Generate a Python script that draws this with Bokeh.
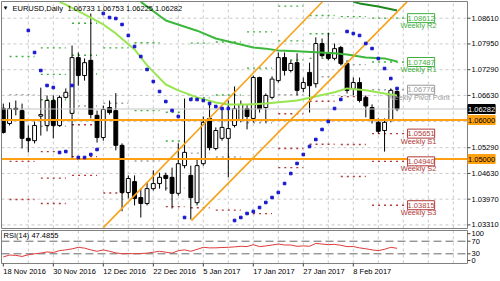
from bokeh.plotting import figure
from bokeh.layouts import column
from bokeh.models import Range1d, Label
from bokeh.embed import file_html
from bokeh.resources import INLINE

NAN = float("nan")

# ---------------- daily candles (bar 0 = 18 Nov 2016) ----------------
opens = [1.0630, 1.0591, 1.0630, 1.0624, 1.0553, 1.0547, 1.0610, 1.0586, 1.0650, 1.0586,
         1.0658, 1.0617, 1.0760, 1.0714, 1.0753, 1.0612, 1.0555, 1.0632, 1.0624, 1.0535,
         1.0414, 1.0442, 1.0401, 1.0386, 1.0424, 1.0437, 1.0458, 1.0453, 1.0412, 1.0483,
         1.0458, 1.0388, 1.0488, 1.0604, 1.0527, 1.0553, 1.0553, 1.0586, 1.0599, 1.0629,
         1.0604, 1.0709, 1.0632, 1.0658, 1.0701, 1.0760, 1.0727, 1.0747, 1.0681, 1.0722,
         1.0693, 1.0796, 1.0771, 1.0758, 1.0786, 1.0745, 1.0681, 1.0696, 1.0658, 1.0632,
         1.0594, 1.0573, 1.0599, 1.06733]
highs = [1.0642, 1.0645, 1.0650, 1.0642, 1.0586, 1.0596, 1.0683, 1.0663, 1.0663, 1.0663,
         1.0681, 1.0791, 1.0773, 1.0758, 1.0873, 1.0624, 1.0637, 1.0650, 1.0669, 1.0540,
         1.0458, 1.0458, 1.0424, 1.0440, 1.0471, 1.0465, 1.0465, 1.0478, 1.0540, 1.0655,
         1.0483, 1.0501, 1.0609, 1.0640, 1.0581, 1.0629, 1.0650, 1.0686, 1.0650, 1.0640,
         1.0714, 1.0711, 1.0668, 1.0712, 1.0773, 1.0773, 1.0753, 1.0771, 1.0709, 1.0747,
         1.0812, 1.0809, 1.0824, 1.0796, 1.0790, 1.0753, 1.0709, 1.0709, 1.0663, 1.0640,
         1.0604, 1.0604, 1.0681, 1.06753]
lows = [1.0565, 1.0586, 1.0612, 1.0527, 1.0517, 1.0540, 1.0560, 1.0571, 1.0553, 1.0583,
        1.0655, 1.0501, 1.0688, 1.0701, 1.0604, 1.0542, 1.0547, 1.0614, 1.0522, 1.0366,
        1.0399, 1.0381, 1.0350, 1.0381, 1.0419, 1.0424, 1.0419, 1.0373, 1.0406, 1.0476,
        1.0345, 1.0381, 1.0483, 1.0522, 1.0522, 1.0547, 1.0453, 1.0581, 1.0594, 1.0576,
        1.0594, 1.0619, 1.0594, 1.0653, 1.0696, 1.0714, 1.0722, 1.0663, 1.0671, 1.0619,
        1.0683, 1.0760, 1.0753, 1.0753, 1.0740, 1.0668, 1.0663, 1.0645, 1.0607, 1.0591,
        1.0565, 1.0519, 1.0594, 1.06225]
closes = [1.0568, 1.0629, 1.0627, 1.0553, 1.0547, 1.0586, 1.0614, 1.0650, 1.0586, 1.0658,
          1.0671, 1.0760, 1.0714, 1.0747, 1.0614, 1.0555, 1.0627, 1.0619, 1.0535, 1.0414,
          1.0450, 1.0399, 1.0386, 1.0424, 1.0437, 1.0453, 1.0450, 1.0412, 1.0488, 1.0517,
          1.0401, 1.0483, 1.0594, 1.0529, 1.0573, 1.0581, 1.0578, 1.0629, 1.0640, 1.0609,
          1.0709, 1.0629, 1.0663, 1.0705, 1.0760, 1.0727, 1.0745, 1.0676, 1.0696, 1.0688,
          1.0796, 1.0765, 1.0758, 1.0783, 1.0745, 1.0676, 1.0696, 1.0650, 1.0636, 1.0599,
          1.0571, 1.0594, 1.0676, 1.06282]

# ---------------- moving averages (read at selected bars) ----------------
ma_fast_idx = [9, 10, 13, 16, 18, 21, 23, 26, 28, 31, 34, 36, 39, 42, 47, 53, 55, 58, 61, 63]
ma_fast = [1.0903, 1.0896, 1.0871, 1.0845, 1.0822, 1.0781, 1.0740, 1.0691, 1.0676, 1.0658,
           1.0645, 1.0640, 1.0640, 1.0642, 1.0650, 1.0671, 1.0681, 1.0676, 1.0668, 1.0663]
ma_mid_idx = [22, 26, 31, 34, 40, 42, 44, 47, 53, 55, 58, 61, 63]
ma_mid = [1.0903, 1.0855, 1.0829, 1.0809, 1.0786, 1.0783, 1.0778, 1.0776, 1.0771,
          1.0768, 1.0760, 1.0758, 1.0750]
ma_slow_idx = [56, 57, 60, 63]
ma_slow = [1.0903, 1.0899, 1.0891, 1.0881]

# ---------------- parabolic SAR ----------------
sar_idx = [4, 5, 6, 7, 8, 9, 10, 11, 12, 13, 14, 15, 16, 17, 18, 19, 20, 21, 22, 23, 24, 25, 26,
           27, 28, 29, 30, 31, 32, 33, 34, 35, 36, 37, 38, 39, 40, 41, 42, 43, 44, 45, 46, 47,
           48, 49, 50, 51, 52, 53, 54, 55, 56, 57, 58, 59, 60, 61, 62, 63]
sar = [1.08295, 1.07731, 1.07269, 1.06885, 1.06833, 1.05167, 1.05192, 1.06885, 1.05038,
       1.05038, 1.05115, 1.05244, 1.08731, 1.08628, 1.08603, 1.08449, 1.08167, 1.07885,
       1.07628, 1.07295, 1.06987, 1.06731, 1.06474, 1.06244, 1.06090, 1.03500, 1.06526,
       1.06526, 1.06500, 1.06423, 1.06346, 1.06295, 1.06295, 1.03423, 1.03500, 1.03603,
       1.03654, 1.03756, 1.03885, 1.04013, 1.04141, 1.04372, 1.04628, 1.04885, 1.05115,
       1.05321, 1.05500, 1.05756, 1.05962, 1.06295, 1.06526, 1.08269, 1.08218, 1.08167,
       1.07962, 1.07833, 1.07577, 1.07320, 1.07064, 1.06808]

# ---------------- weekly pivots ----------------
week_first = [1, 6, 11, 16, 21, 26, 30, 34, 39, 44, 49, 54, 59]
week_last = [5, 10, 15, 20, 25, 29, 33, 38, 43, 48, 53, 58, 63]
piv_r3 = [NAN, 1.0785, 1.0848, NAN, NAN, 1.0620, NAN, NAN, NAN, 1.0892, 1.0868, NAN, NAN]
piv_r2 = [NAN, 1.0717, 1.0766, NAN, 1.0798, 1.0546, 1.0797, 1.0800, 1.0826, 1.0803, 1.0821, NAN, 1.08612]
piv_r1 = [1.0763, 1.0652, 1.0718, 1.0785, 1.0624, 1.0499, 1.0657, 1.0664, 1.0733, 1.0754, 1.0758, 1.0865, 1.07487]
piv_pp = [1.0665, 1.0584, 1.0636, 1.0643, 1.0495, 1.0425, 1.0515, 1.0505, 1.0593, 1.0665, 1.0711, 1.0742, 1.06776]
piv_s1 = [1.0494, 1.0519, 1.0588, 1.0413, 1.0321, 1.0378, 1.0375, 1.0369, 1.0500, 1.0616, 1.0648, 1.0660, 1.05651]
piv_s2 = [1.0396, 1.0451, 1.0506, NAN, NAN, NAN, NAN, NAN, 1.0360, 1.0527, 1.0601, 1.0537, 1.04940]
piv_s3 = [NAN, 1.0386, 1.0458, NAN, NAN, NAN, NAN, NAN, NAN, 1.0478, 1.0538, 1.0455, 1.03815]
pivot_names = ["Weekly R2", "Weekly R1", "Weekly Pivot Point", "Weekly S1", "Weekly S2", "Weekly S3"]

# ---------------- drawn objects ----------------
chan_upper_idx = [16.0, 51.1]
chan_upper = [1.0324, 1.0904]
chan_lower_idx = [30.1, 64.6]
chan_lower = [1.0342, 1.0903]
hlines = [1.06, 1.05]

# ---------------- axes ----------------
price_ticks = [1.0861, 1.0795, 1.0729, 1.0663, 1.0529, 1.0463, 1.0397, 1.0331]
price_grid = price_ticks + [1.0596]
date_idx = [0, 8, 16, 24, 32, 40, 48, 56]
date_labels = ["18 Nov 2016", "30 Nov 2016", "12 Dec 2016", "22 Dec 2016",
               "5 Jan 2017", "17 Jan 2017", "27 Jan 2017", "8 Feb 2017"]
grid_bars = list(range(4, 73, 4))

# ---------------- RSI(14) ----------------
rsi = [20.0, 26.0, 25.0, 21.6, 27.0, 30.0, 32.0, 36.0, 34.0, 40.0, 42.5, 45.6, 50.6, 48.0,
       42.5, 38.0, 42.5, 38.0, 33.0, 30.0, 31.0, 30.0, 31.0, 32.0, 35.0, 38.0, 35.0, 32.0,
       40.0, 42.5, 38.0, 44.0, 50.6, 48.8, 49.0, 50.0, 50.6, 52.0, 53.8, 53.0, 59.0, 52.8,
       55.0, 58.0, 61.0, 58.0, 58.0, 53.8, 55.0, 54.0, 63.0, 61.0, 59.0, 60.0, 57.0, 52.8,
       53.0, 48.8, 46.0, 42.5, 40.0, 44.4, 50.6, 47.4855]
rsi_levels = [30, 70]
rsi_tick_pos = [94, 70, 30, 9]
rsi_tick_text = ["100", "70", "30", "0"]

# =====================================================================
FONT = "Liberation Sans"
FS = "7.5px"
BAR_PX = 6.25          # pixels per bar
PRICE_PX = 3900.0      # pixels per price unit
RSI_PX = 33 / 104.8    # pixels per RSI unit
# canvas ranges (frame = whole canvas, bar 0 sits 2.8 px from the left edge)
XL, XR = -2.8 / BAR_PX, (500 - 2.8) / BAR_PX
YT, YB = 1.06 + 119.5 / PRICE_PX, 1.06 - 109.5 / PRICE_PX
# chart-area border (px 1..467 horizontally, 1..228 vertically)
CX0, CX1 = (1 - 2.8) / BAR_PX, (467 - 2.8) / BAR_PX
CY1, CY0 = 1.06 + 118.5 / PRICE_PX, 1.06 - 108.5 / PRICE_PX
R_TOP, R_BOT = 104.0, -0.8
GREEN_P, GRAY_P, RED_P = "#3fae3f", "#a0a0a0", "#b03a3a"
ORANGE = "#f7a21b"
BORDER = "#808080"
GRID = "#c8c8c8"


def lbl(fig, x, y, text, **kw):
    base = dict(text_font=FONT, text_font_size=FS, text_color="black",
                text_align="left", text_baseline="middle")
    base.update(kw)
    fig.add_layout(Label(x=x, y=y, text=text, **base))


p = figure(width=500, height=229, x_range=Range1d(XL, XR), y_range=Range1d(YB, YT),
           x_axis_location=None, y_axis_location=None, output_backend="svg",
           toolbar_location=None, min_border_left=0, min_border_right=0,
           min_border_top=0, min_border_bottom=0)
p.grid.visible = False
p.outline_line_color = None
p.background_fill_color = "white"
p.border_fill_color = "white"

# grid
p.segment(x0=grid_bars, y0=[CY0] * len(grid_bars), x1=grid_bars, y1=[CY1] * len(grid_bars),
          line_color=GRID, line_width=1, line_dash="3 3")
p.segment(x0=[CX0] * len(price_grid), y0=price_grid, x1=[CX1] * len(price_grid), y1=price_grid,
          line_color=GRID, line_width=1, line_dash="3 3")

# pivot dotted segments
px0, px1, py, pc = [], [], [], []
for vals, col in ((piv_r3, GREEN_P), (piv_r2, GREEN_P), (piv_r1, GREEN_P), (piv_pp, GRAY_P),
                  (piv_s1, RED_P), (piv_s2, RED_P), (piv_s3, RED_P)):
    for k, v in enumerate(vals):
        if v == v:
            px0.append(week_first[k])
            px1.append(week_last[k] + (1.7 if k == len(vals) - 1 else 0))
            py.append(v)
            pc.append(col)
p.segment(x0=px0, y0=py, x1=px1, y1=py, line_color=pc, line_width=1.4, line_dash="2 4")

# candles
idx = list(range(len(opens)))
p.segment(x0=idx, y0=lows, x1=idx, y1=highs, line_color="black", line_width=1)
up = [i for i in idx if closes[i] >= opens[i]]
dn = [i for i in idx if closes[i] < opens[i]]
p.vbar(x=up, width=0.62, bottom=[opens[i] for i in up], top=[closes[i] for i in up],
       fill_color="white", line_color="black", line_width=1)
p.vbar(x=dn, width=0.62, bottom=[closes[i] for i in dn], top=[opens[i] for i in dn],
       fill_color="black", line_color="black", line_width=1)

# moving averages
p.line(ma_slow_idx, ma_slow, line_color="#208a20", line_width=2)
p.line(ma_mid_idx, ma_mid, line_color="#3cb83c", line_width=2)
p.line(ma_fast_idx, ma_fast, line_color="#98e650", line_width=2)

# trend channel, bid line and horizontal levels
p.line(chan_upper_idx, chan_upper, line_color=ORANGE, line_width=1.6)
p.line(chan_lower_idx, chan_lower, line_color=ORANGE, line_width=1.6)
p.segment(x0=[CX0], y0=[closes[-1]], x1=[CX1], y1=[closes[-1]], line_color="#c4c4c4", line_width=1)
p.segment(x0=[CX0] * len(hlines), y0=hlines, x1=[CX1] * len(hlines), y1=hlines,
          line_color="#ffa010", line_width=2)

# parabolic SAR
p.scatter(sar_idx, sar, marker="square", size=2.6, fill_color="#1616d0", line_color="#1616d0")

# chart border
p.quad(left=[CX0], right=[CX1], bottom=[CY0], top=[CY1], fill_color=None, line_color=BORDER)

# right price scale
p.segment(x0=[CX1] * len(price_ticks), y0=price_ticks, x1=[CX1 + 3 / BAR_PX] * len(price_ticks),
          y1=price_ticks, line_color="#404040", line_width=1)
for t in price_ticks:
    lbl(p, CX1, t, f"{t:.5f}", x_offset=4)

# weekly pivot labels (last week)
last_vals = [piv_r2[-1], piv_r1[-1], piv_pp[-1], piv_s1[-1], piv_s2[-1], piv_s3[-1]]
last_cols = [GREEN_P, GREEN_P, "#9a9a9a", RED_P, RED_P, RED_P]
for name, v, col in zip(pivot_names, last_vals, last_cols):
    lbl(p, week_last[-1], v, f"{v:.5f}", x_offset=10.5, text_color=col,
        background_fill_color="white", border_line_color=col, padding=(0, 2))
    lbl(p, week_last[-1], v, name, x_offset=21.5, y_offset=-3, text_align="center",
        text_baseline="top", text_color=col)

# right-axis price boxes
for lv in hlines:
    lbl(p, CX1, lv, f"{lv:.5f}", x_offset=0.5, background_fill_color="#ffa010",
        border_line_color="#ffa010", padding=(0, 2))
lbl(p, CX1, closes[-1], f"{closes[-1]:.5f}", x_offset=0.5, text_color="white",
    background_fill_color="black", border_line_color="black", padding=(0, 2))

# title
lbl(p, XL, YT, "\u25bc", x_offset=2, y_offset=-7.5, text_font_size="6px")
lbl(p, XL, YT, "EURUSD,Daily", x_offset=12, y_offset=-7.5)
lbl(p, XL, YT, " ".join(f"{v:.5f}" for v in (opens[-1], highs[-1], lows[-1], closes[-1])),
    x_offset=67, y_offset=-7.5)

# ---------------- RSI panel ----------------
p2 = figure(width=500, height=52, x_range=p.x_range,
            y_range=Range1d(R_BOT - 18 / RSI_PX, R_TOP + 1 / RSI_PX),
            x_axis_location=None, y_axis_location=None, output_backend="svg",
            toolbar_location=None, min_border_left=0, min_border_right=0,
            min_border_top=0, min_border_bottom=0)
p2.grid.visible = False
p2.outline_line_color = None
p2.background_fill_color = "white"
p2.border_fill_color = "white"

p2.segment(x0=grid_bars, y0=[R_BOT] * len(grid_bars), x1=grid_bars, y1=[R_TOP] * len(grid_bars),
           line_color=GRID, line_width=1, line_dash="3 3")
p2.segment(x0=[CX0] * 2, y0=rsi_levels, x1=[CX1] * 2, y1=rsi_levels,
           line_color="#6a6a6a", line_width=1, line_dash="8 4")
p2.line(idx, rsi, line_color="#e03c3c", line_width=1)
p2.quad(left=[CX0], right=[CX1], bottom=[R_BOT], top=[R_TOP], fill_color=None, line_color=BORDER)

p2.segment(x0=[CX1] * 4, y0=rsi_tick_pos, x1=[CX1 + 3 / BAR_PX] * 4, y1=rsi_tick_pos,
           line_color="#404040", line_width=1)
for pos, txt in zip(rsi_tick_pos, rsi_tick_text):
    lbl(p2, CX1, pos, txt, x_offset=4)

p2.segment(x0=date_idx, y0=[R_BOT] * len(date_idx), x1=date_idx,
           y1=[R_BOT - 3 / RSI_PX] * len(date_idx), line_color="#404040", line_width=1)
for i, t in zip(date_idx, date_labels):
    lbl(p2, i, R_BOT, t, x_offset=0, y_offset=-3.5, text_baseline="top")
lbl(p2, CX0, R_TOP, f"RSI(14) {rsi[-1]:.4f}", x_offset=2, y_offset=-4.5)

layout = column(p, p2)
open("out.html", "w").write(file_html(layout, INLINE, "EURUSD Daily"))
